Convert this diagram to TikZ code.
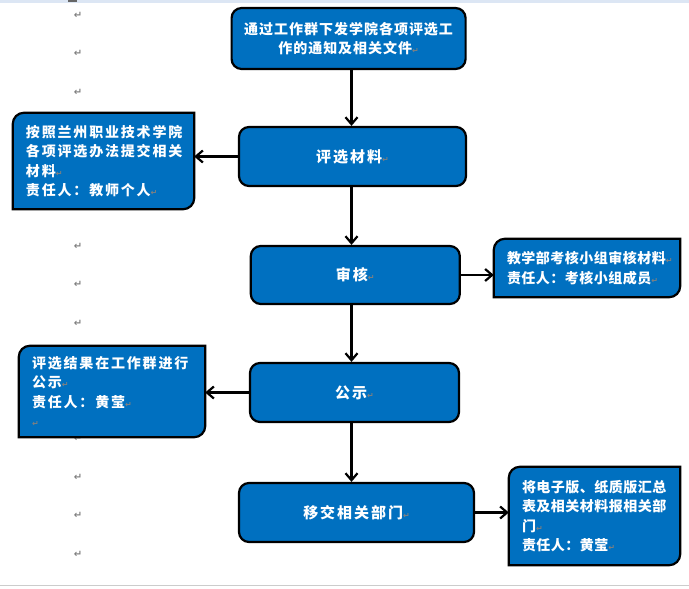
\documentclass[tikz,border=0pt]{standalone}
\usepackage{fontspec}
\usepackage{xcolor}
\usepackage{tikz}
\usetikzlibrary{positioning,arrows.meta,backgrounds}
\newfontfamily\cjk{Noto Sans CJK SC}
\newfontfamily\retfont{DejaVu Sans}
\definecolor{boxblue}{RGB}{0,112,192}
\definecolor{retgray}{RGB}{128,128,128}
\definecolor{barblue}{RGB}{220,230,244}
\newcommand{\rmk}{{\retfont\fontsize{8}{8}\selectfont\textcolor{retgray}{↵}}}
\tikzset{
  stepbox/.style={draw, line width=2.2pt, fill=boxblue, rounded corners=10pt, text=white, align=center, inner sep=0pt, minimum height=59pt, font=\cjk\bfseries\fontsize{15}{20}\selectfont\addfontfeatures{LetterSpace=13}},
  notetext/.style={text=white, align=left, inner xsep=13pt, inner ysep=0pt, font=\cjk\bfseries\fontsize{14}{19.5}\selectfont\addfontfeatures{LetterSpace=#1}},
  notebox/.style={draw, line width=2.2pt, fill=boxblue},
  retmark/.style={inner sep=0pt, text=retgray, font=\retfont\bfseries\fontsize{10}{10}\selectfont},
  flow/.style={-{Straight Barb[length=7pt,width=12pt]}, line width=2.2pt}
}
\begin{document}
\begin{tikzpicture}[x=1pt, y=-1pt]
\useasboundingbox (0,0) rectangle (689,589);
% page edges
\fill[barblue] (0,0) rectangle (689,3);
\fill[black!60] (68,0) rectangle (77,1.5);
\draw[black!20, line width=1.2pt] (0,585.5) -- (689,585.5);
% paragraph marks in the margin
\begin{pgfonlayer}{background}
\foreach \i in {0,1,2,5,6,7,8,11,12,13,14}
  \node[retmark] (ret\i) at (78,{15+38.5*\i}) {↵};
\end{pgfonlayer}
% main steps
\node[stepbox, minimum width=234pt, minimum height=61pt, font=\cjk\bfseries\fontsize{14}{19.5}\selectfont\addfontfeatures{LetterSpace=7}] (notice) at (348.6,38.5) {通过工作群下发学院各项评选工\\作的通知及相关文件\rmk};
\node[stepbox, minimum width=227pt, below of=notice, node distance=118pt, xshift=3.9pt] (mat) {评选材料\rmk};
\node[stepbox, minimum width=209pt, minimum height=58pt, below of=mat, node distance=118.5pt, xshift=2.8pt] (chk) {审核\rmk};
\node[stepbox, minimum width=209pt, below of=chk, node distance=117.5pt, xshift=-0.8pt] (pub) {公示\rmk};
\node[stepbox, minimum width=235pt, below of=pub, node distance=120pt, xshift=2pt] (dep) {移交相关部门\rmk};
% notes
\node[notetext=13, text width=155pt, minimum height=96pt, left of=mat, node distance=249pt, yshift=-4.5pt] (matnote) {按照兰州职业技术学院\\各项评选办法提交相关\\材料\rmk\\责任人：教师个人\rmk};
\node[notetext=3.5, text width=160pt, minimum height=58pt, right of=chk, node distance=231.7pt, yshift=7pt] (chknote) {教学部考核小组审核材料\rmk\\责任人：考核小组成员\rmk};
\node[notetext=13, text width=160pt, minimum height=91pt, left of=pub, node distance=242.5pt, yshift=1pt] (pubnote) {评选结果在工作群进行\\公示\rmk\\责任人：黄莹\rmk\\\rmk};
\node[notetext=3.5, text width=145pt, minimum height=98pt, right of=dep, node distance=238pt, yshift=-3.5pt] (depnote) {将电子版、纸质版汇总\\表及相关材料报相关部\\门\rmk\\责任人：黄莹\rmk};
\begin{pgfonlayer}{background}
\foreach \n in {matnote,chknote,pubnote,depnote}
  \draw[notebox] ([yshift=-11pt]\n.north west) arc[start angle=180, end angle=90, radius=11pt] -- (\n.north east) -- ([yshift=11pt]\n.south east) arc[start angle=0, end angle=-90, radius=11pt] -- (\n.south west) -- cycle;
\end{pgfonlayer}
% connectors
\coordinate (axis) at (351.5,0);
\draw[flow] (notice.south -| axis) -- (mat.north -| axis);
\draw[flow] (mat.south -| axis) -- (chk.north -| axis);
\draw[flow] (chk.south -| axis) -- (pub.north -| axis);
\draw[flow] (pub.south -| axis) -- (dep.north -| axis);
\draw[flow] (mat.west) -- (mat.west -| matnote.east);
\draw[flow] (chk.east) -- (chk.east -| chknote.west);
\draw[flow] (pub.west) -- (pub.west -| pubnote.east);
\draw[flow] (dep.east) -- (dep.east -| depnote.west);
\end{tikzpicture}
\end{document}
